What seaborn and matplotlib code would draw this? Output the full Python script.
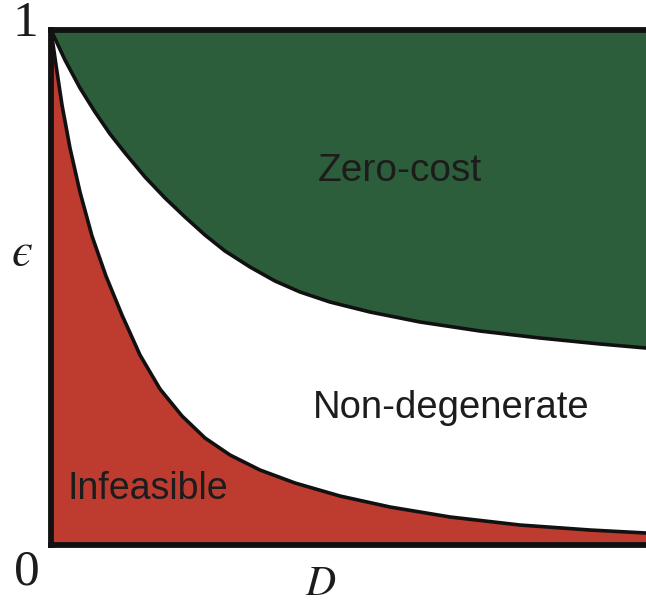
import numpy as np
import pandas as pd
import matplotlib
matplotlib.use("Agg")
import matplotlib.pyplot as plt
import seaborn as sns

# Boundary between non-degenerate and zero-cost region
upper_D = [0.0, 0.0235, 0.0487, 0.0739, 0.0992, 0.1244, 0.1580, 0.1916,
           0.2252, 0.2588, 0.2924, 0.3345, 0.3765, 0.4185, 0.4689, 0.5361,
           0.6202, 0.7210, 0.8218, 0.9227, 1.0]
upper_eps = [1.0, 0.9417, 0.8874, 0.8408, 0.7981, 0.7612, 0.7146, 0.6738,
             0.6369, 0.6019, 0.5709, 0.5398, 0.5126, 0.4913, 0.4718, 0.4524,
             0.4330, 0.4155, 0.4019, 0.3903, 0.3825]

# Boundary between infeasible and non-degenerate region
lower_D = [0.0, 0.0084, 0.0185, 0.0319, 0.0487, 0.0689, 0.0924, 0.1193,
           0.1496, 0.1832, 0.2202, 0.2588, 0.3008, 0.3513, 0.4101, 0.4857,
           0.5697, 0.6706, 0.7882, 0.9059, 1.0]
lower_eps = [1.0, 0.9320, 0.8544, 0.7709, 0.6854, 0.6000, 0.5223, 0.4466,
             0.3689, 0.3029, 0.2505, 0.2078, 0.1748, 0.1456, 0.1204, 0.0951,
             0.0738, 0.0544, 0.0388, 0.0291, 0.0233]

region_labels = ["Zero-cost", "Non-degenerate", "Infeasible"]
axis_labels = ["1", "0", "\u03f5", "D"]

green = "#2d5e3b"
red = "#be3b2f"
txt = "#1c1c1c"

sns.set_style("white")
plt.rcParams["font.family"] = ["Liberation Sans", "DejaVu Sans"]

fig = plt.figure(figsize=(6.46, 6.06), dpi=100)
ax = fig.add_axes([51/646, 61/606, 595/646, 515/606])

up = pd.DataFrame({"D": upper_D, "eps": upper_eps})
lo = pd.DataFrame({"D": lower_D, "eps": lower_eps})

ax.fill_between(up["D"], up["eps"], 1.0, color=green, lw=0, zorder=1)
ax.fill_between(lo["D"], 0.0, lo["eps"], color=red, lw=0, zorder=1)
sns.lineplot(data=up, x="D", y="eps", ax=ax, color="#111111", lw=2.6,
             sort=False, zorder=3, solid_joinstyle="round")
sns.lineplot(data=lo, x="D", y="eps", ax=ax, color="#111111", lw=2.6,
             sort=False, zorder=3, solid_joinstyle="round")

ax.set_xlim(0, 1)
ax.set_ylim(0, 1)
ax.set_xticks([])
ax.set_yticks([])
ax.set_xlabel("")
ax.set_ylabel("")
for s in ["left", "top", "bottom"]:
    ax.spines[s].set_linewidth(4.2)
    ax.spines[s].set_color("#111111")
    ax.spines[s].set_zorder(5)
ax.spines["right"].set_visible(False)

ax.text(0.587, 0.727, region_labels[0], fontsize=28, color=txt,
        ha="center", va="center")
ax.text(0.672, 0.266, region_labels[1], fontsize=27.5, color=txt,
        ha="center", va="center")
ax.text(0.163, 0.109, region_labels[2], fontsize=27, color=txt,
        ha="center", va="center")

serif = ["Liberation Serif", "DejaVu Serif"]
fig.text(25/646, 1 - 24/606, axis_labels[0], fontsize=37, family=serif,
         color=txt, ha="center", va="center")
fig.text(27/646, 1 - 572/606, axis_labels[1], fontsize=37, family=serif,
         color=txt, ha="center", va="center")
fig.text(22/646, 1 - 254/606, axis_labels[2], fontsize=34,
         family=["STIXGeneral", "DejaVu Serif"], style="italic",
         color=txt, ha="center", va="center")
fig.text(320/646, 1 - 585/606, axis_labels[3], fontsize=30,
         family=["STIXGeneral", "Liberation Serif"], style="italic",
         color=txt, ha="center", va="center")

fig.savefig("out.png", dpi=100)
